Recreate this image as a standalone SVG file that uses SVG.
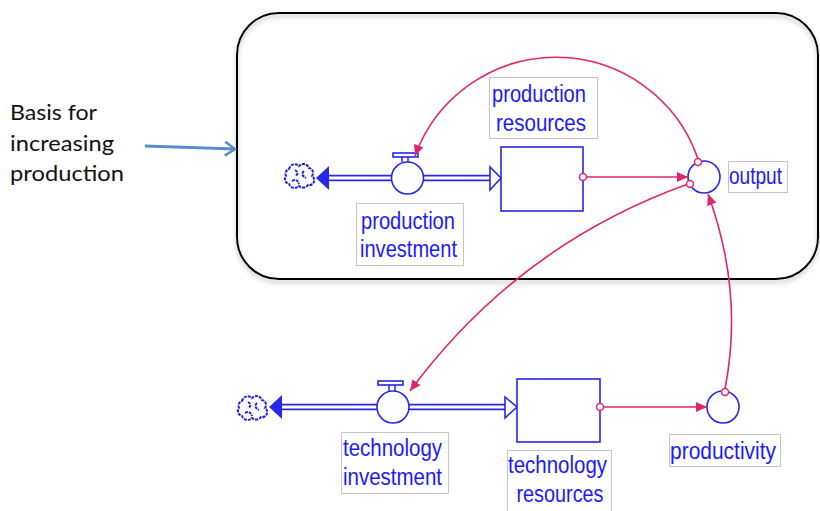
<svg xmlns="http://www.w3.org/2000/svg" width="820" height="511" viewBox="0 0 820 511">
<style>
.frame{fill:none;stroke:#000;stroke-width:2}
.lbl{fill:#fff;stroke:#c4c4c4;stroke-width:1}
.lt{font-family:"Liberation Sans",Arial,sans-serif;font-size:23px;fill:#1a1aff;text-anchor:middle}
.shape{fill:#fff;stroke:#2727e6;stroke-width:1.6}
.pipeo{fill:none;stroke:#2727e6;stroke-width:6.5}
.pipei{fill:none;stroke:#fff;stroke-width:3}
.conn{fill:none;stroke:#e0246e;stroke-width:1.6}
.dot{fill:#fff;stroke:#e0246e;stroke-width:1.5}
.note{font-family:Lato,"Open Sans","Liberation Sans",sans-serif;font-size:22px;fill:#111}
.cloud{fill:#fff;stroke:#1f1fe6;stroke-width:2;stroke-dasharray:3 1}
</style>
<defs>
<filter id="sh" x="-5%" y="-5%" width="110%" height="115%">
<feDropShadow dx="0" dy="3" stdDeviation="2" flood-color="#888" flood-opacity="0.6"/>
</filter>
<marker id="pa" markerUnits="userSpaceOnUse" markerWidth="12" markerHeight="10" refX="11" refY="5" orient="auto">
<path d="M0,0 L11,5 L0,10 z" fill="#e0246e"/>
</marker>
<marker id="ba" markerUnits="userSpaceOnUse" markerWidth="14" markerHeight="16" refX="12" refY="8" orient="auto">
<path d="M2,1 L12,8 L2,15" fill="none" stroke="#5b8bc8" stroke-width="2.5"/>
</marker>
<g id="cloud">
<path class="cloud" d="M-10,-7 a6,6 0 0 1 10,-3 a6,6 0 0 1 10,2 a5,5 0 0 1 3,8 a5,5 0 0 1 -4,9 a6,6 0 0 1 -9,1 a6,6 0 0 1 -10,-2 a5,5 0 0 1 -3,-8 a5,5 0 0 1 3,-7 z"/>
<path class="cloud" d="M-4,-6 q5,3 0,6 M5,-5 q-4,4 2,7 M-7,5 q5,-3 7,3"/>
</g>
</defs>

<rect x="237" y="13" width="581" height="266" rx="42" ry="42" class="frame" filter="url(#sh)"/>

<g id="annotation">
<text class="note" x="10" y="120" textLength="87" lengthAdjust="spacingAndGlyphs">Basis for</text>
<text class="note" x="10" y="151" textLength="104" lengthAdjust="spacingAndGlyphs">increasing</text>
<text class="note" x="10" y="181" textLength="114" lengthAdjust="spacingAndGlyphs">production</text>
<line x1="145" y1="146" x2="235" y2="149" stroke="#5b8bc8" stroke-width="3" marker-end="url(#ba)"/>
</g>

<g id="flows">
<line class="pipeo" x1="329" y1="178" x2="392" y2="178"/>
<line class="pipei" x1="329" y1="178" x2="392" y2="178"/>
<line class="pipeo" x1="423" y1="178" x2="491" y2="178"/>
<line class="pipei" x1="423" y1="178" x2="491" y2="178"/>
<polygon points="316,178 329,166 329,190" fill="#2727e6"/>
<polygon class="shape" points="490,167 501,178 490,190"/>
<line class="pipeo" x1="282" y1="407" x2="378" y2="407"/>
<line class="pipei" x1="282" y1="407" x2="378" y2="407"/>
<line class="pipeo" x1="408" y1="407" x2="506" y2="407"/>
<line class="pipei" x1="408" y1="407" x2="506" y2="407"/>
<polygon points="269,407 282,395 282,419" fill="#2727e6"/>
<polygon class="shape" points="505,397 517,407 505,418"/>
</g>

<g id="cloud1"><use href="#cloud" x="299" y="176"/></g>
<g id="cloud2"><use href="#cloud" x="252" y="408"/></g>

<g id="production-investment">
<rect class="shape" x="393" y="153" width="25" height="4"/>
<line x1="402" y1="157" x2="402" y2="162" stroke="#2727e6" stroke-width="1.5"/>
<line x1="408" y1="157" x2="408" y2="162" stroke="#2727e6" stroke-width="1.5"/>
<circle class="shape" cx="407.5" cy="178" r="16"/>
<rect class="lbl" x="356.5" y="203.5" width="107" height="62"/>
<text class="lt" x="408" y="229" textLength="94" lengthAdjust="spacingAndGlyphs">production</text>
<text class="lt" x="408.5" y="257" textLength="97" lengthAdjust="spacingAndGlyphs">investment</text>
</g>

<g id="production-resources">
<rect class="shape" x="501" y="147" width="82" height="64"/>
<rect class="lbl" x="489.5" y="77.5" width="108" height="61"/>
<text class="lt" x="539" y="102" textLength="94" lengthAdjust="spacingAndGlyphs">production</text>
<text class="lt" x="541" y="131" textLength="90" lengthAdjust="spacingAndGlyphs">resources</text>
</g>

<g id="output">
<circle class="shape" cx="704" cy="177" r="16"/>
<rect class="lbl" x="728.5" y="161.5" width="59" height="31"/>
<text class="lt" x="755.5" y="184" textLength="53" lengthAdjust="spacingAndGlyphs">output</text>
</g>

<g id="technology-investment">
<rect class="shape" x="378" y="381" width="25" height="4"/>
<line x1="389" y1="385" x2="389" y2="391" stroke="#2727e6" stroke-width="1.5"/>
<line x1="395" y1="385" x2="395" y2="391" stroke="#2727e6" stroke-width="1.5"/>
<circle class="shape" cx="393" cy="407" r="16"/>
<rect class="lbl" x="341.5" y="432.5" width="107" height="61"/>
<text class="lt" x="392.5" y="456" textLength="99" lengthAdjust="spacingAndGlyphs">technology</text>
<text class="lt" x="392.5" y="485" textLength="99" lengthAdjust="spacingAndGlyphs">investment</text>
</g>

<g id="technology-resources">
<rect class="shape" x="517" y="379" width="83" height="63"/>
<rect class="lbl" x="507.5" y="450.5" width="104" height="62"/>
<text class="lt" x="557.5" y="473" textLength="99" lengthAdjust="spacingAndGlyphs">technology</text>
<text class="lt" x="560" y="502" textLength="87" lengthAdjust="spacingAndGlyphs">resources</text>
</g>

<g id="productivity">
<circle class="shape" cx="723" cy="407" r="16"/>
<rect class="lbl" x="669.5" y="434.5" width="111" height="32"/>
<text class="lt" x="723" y="459" textLength="106" lengthAdjust="spacingAndGlyphs">productivity</text>
</g>

<g id="connectors">
<path class="conn" d="M586,177 L688,177" marker-end="url(#pa)"/>
<path class="conn" d="M698,159 A150,150 0 0 0 415,156" marker-end="url(#pa)"/>
<path class="conn" d="M688,184 Q518,245 410,391" marker-end="url(#pa)"/>
<path class="conn" d="M725,389 Q744,292 708,194" marker-end="url(#pa)"/>
<path class="conn" d="M603,407 L707,407" marker-end="url(#pa)"/>
<circle class="dot" cx="583" cy="177" r="3.5"/>
<circle class="dot" cx="698" cy="162" r="3.5"/>
<circle class="dot" cx="690" cy="184" r="3.5"/>
<circle class="dot" cx="600" cy="407" r="3.5"/>
<circle class="dot" cx="725" cy="392" r="3.5"/>
</g>
</svg>
